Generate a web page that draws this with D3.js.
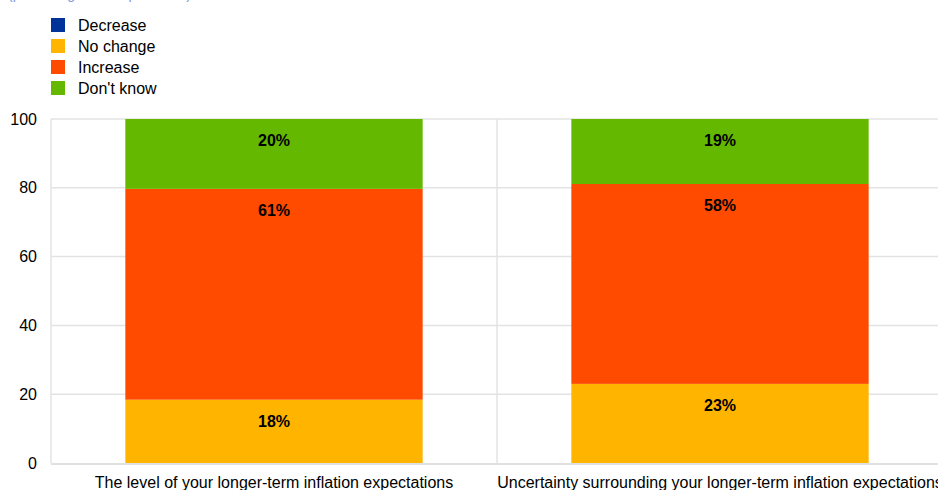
<!DOCTYPE html>
<html>
<head>
<meta charset="utf-8">
<script src="https://cdn.jsdelivr.net/npm/d3@7"></script>
<style>
  html, body { margin: 0; padding: 0; background: #fff; overflow: hidden; }
  svg { display: block; font-family: "Liberation Sans", Arial, sans-serif; }
</style>
</head>
<body>
<svg id="chart" width="938" height="490"></svg>
<script>
// Survey answers on longer-term inflation expectations (percentages of respondents)
const categories = [
  "The level of your longer-term inflation expectations",
  "Uncertainty surrounding your longer-term inflation expectations"
];
const seriesNames = ["Decrease", "No change", "Increase", "Don't know"];
const decrease  = [0, 0];
const noChange  = [18.4, 23.0];
const increase  = [61.3, 58.1];
const dontKnow  = [20.3, 18.9];
const yTicks = [0, 20, 40, 60, 80, 100];
const colors = ["#003299", "#FFB400", "#FF4B00", "#65B800"];

const seriesValues = [decrease, noChange, increase, dontKnow];
const rows = categories.map((c, i) => {
  const r = { category: c };
  seriesNames.forEach((s, k) => r[s] = seriesValues[k][i]);
  return r;
});

const svg = d3.select("#chart");
const margin = { left: 51, right: -5, top: 119, bottom: 27 };
const W = 938, H = 490;
const FS = 16;

const x = d3.scaleBand()
  .domain(categories)
  .range([margin.left, W - margin.right])
  .paddingInner(0)
  .paddingOuter(0);
const barPad = x.bandwidth() / 6;

const y = d3.scaleLinear().domain([0, 100]).range([H - margin.bottom, margin.top]);

// Subtitle line, cropped at the top edge
svg.append("text")
  .attr("x", 8).attr("y", -1)
  .attr("font-size", 14)
  .attr("fill", "#7f96d6")
  .text("(percentages of respondents)");

// Horizontal grid
svg.append("g")
  .selectAll("line")
  .data(yTicks.filter(t => t > 0))
  .join("line")
  .attr("x1", margin.left).attr("x2", W)
  .attr("y1", d => y(d)).attr("y2", d => y(d))
  .attr("stroke", "#e3e3e3").attr("stroke-width", 1.5);

// Vertical category separators
svg.append("g")
  .selectAll("line")
  .data(categories)
  .join("line")
  .attr("x1", d => x(d)).attr("x2", d => x(d))
  .attr("y1", y(100)).attr("y2", y(0))
  .attr("stroke", "#e3e3e3").attr("stroke-width", 1.5);

// Stacked bars
const stack = d3.stack().keys(seriesNames)(rows);
const layers = svg.append("g")
  .selectAll("g")
  .data(stack)
  .join("g")
  .attr("fill", (d, i) => colors[i]);

layers.selectAll("rect")
  .data(d => d)
  .join("rect")
  .attr("x", d => x(d.data.category) + barPad)
  .attr("width", x.bandwidth() - 2 * barPad)
  .attr("y", d => y(d[1]))
  .attr("height", d => y(d[0]) - y(d[1]));

// Value labels near the top of each segment
const labelData = [];
stack.forEach(layer => layer.forEach(d => {
  const v = d[1] - d[0];
  if (v > 0) labelData.push({ cat: d.data.category, top: d[1], v });
}));
svg.append("g")
  .selectAll("text")
  .data(labelData)
  .join("text")
  .attr("x", d => x(d.cat) + x.bandwidth() / 2)
  .attr("y", d => y(d.top) + 27)
  .attr("text-anchor", "middle")
  .attr("font-size", FS)
  .attr("font-weight", "bold")
  .attr("fill", "#000")
  .text(d => d3.format(".0f")(d.v) + "%");

// Baseline
svg.append("line")
  .attr("x1", margin.left).attr("x2", W)
  .attr("y1", y(0) + 1).attr("y2", y(0) + 1)
  .attr("stroke", "#e0e0e0").attr("stroke-width", 2);

// Y axis
const yAxis = svg.append("g")
  .attr("transform", `translate(${margin.left},0)`)
  .call(d3.axisLeft(y).tickValues(yTicks).tickSize(0).tickPadding(14));
yAxis.select(".domain").remove();
yAxis.selectAll("text")
  .attr("font-size", FS)
  .attr("fill", "#000")
  .attr("font-family", "Liberation Sans, Arial, sans-serif");

// X axis labels
const xAxis = svg.append("g")
  .attr("transform", `translate(0,${y(0)})`)
  .call(d3.axisBottom(x).tickSize(0).tickPadding(13.5));
xAxis.select(".domain").remove();
xAxis.selectAll("text")
  .attr("font-size", FS)
  .attr("fill", "#000")
  .attr("font-family", "Liberation Sans, Arial, sans-serif");

// Legend
const legend = svg.append("g")
  .selectAll("g")
  .data(seriesNames)
  .join("g")
  .attr("transform", (d, i) => `translate(51,${18 + i * 21})`);
legend.append("rect")
  .attr("width", 14).attr("height", 14)
  .attr("fill", (d, i) => colors[i]);
legend.append("text")
  .attr("x", 27).attr("y", 7)
  .attr("dy", "0.35em")
  .attr("font-size", FS)
  .attr("fill", "#000")
  .text(d => d);
</script>
</body>
</html>
